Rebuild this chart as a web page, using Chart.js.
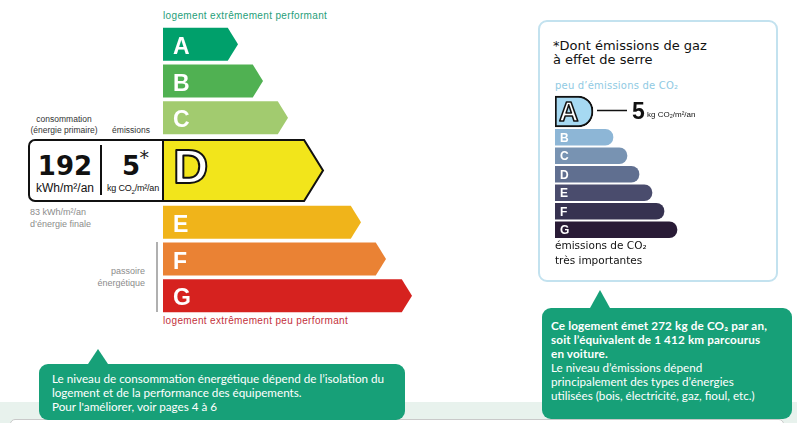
<!DOCTYPE html>
<html lang="fr">
<head>
<meta charset="utf-8">
<script src="https://cdn.jsdelivr.net/npm/chart.js@4/dist/chart.umd.min.js"></script>
<style>
  body { margin: 0; width: 797px; height: 423px; position: relative; overflow: hidden; background: #fff;
         font-family: 'Liberation Sans', Arial, sans-serif; }
  .abs { position: absolute; white-space: nowrap; }
  canvas { display: block; }
  .band { left: 0; top: 402px; width: 797px; height: 21px; background: #e8f2ed; }
  .sheet { left: 10px; top: 419px; width: 772px; height: 20px; background: #fff; border: 1px solid #c9c9c9; border-radius: 5px; }
  .small { font-size: 8.5px; line-height: 11px; color: #333; text-align: center; }
  .grey { font-size: 9px; line-height: 11.5px; color: #8c8c8c; }
  .dbox { left: 28px; top: 139px; width: 136px; height: 63px; box-sizing: border-box; border: 2px solid #111;
          border-right: none; border-radius: 7px 0 0 7px; background: #fff; }
  .big { font-family: 'DejaVu Sans', Verdana, sans-serif; font-weight: bold; font-size: 26px; line-height: 26px; color: #111; text-align: center; }
  .panel { left: 538px; top: 20px; width: 240px; height: 262px; box-sizing: border-box; border: 2px solid #c3e2ef; border-radius: 9px; }
  .dv { font-family: 'DejaVu Sans', Verdana, sans-serif; color: #111; }
  .callout { background: #17a078; color: #fff; border-radius: 9px; font-family: Lato, 'Open Sans', sans-serif;
             font-size: 11.7px; line-height: 14px; box-sizing: border-box; white-space: nowrap; }
  .callout b { letter-spacing: 0.15px; }
  .callout::before { content: ''; position: absolute; width: 0; height: 0;
             border-left: 10px solid transparent; border-right: 10px solid transparent; }
  #callLeft { left: 39px; top: 364px; width: 366px; height: 56px; padding: 7px 0 0 13px; }
  #callLeft::before { left: 49px; top: -15px; border-bottom: 15px solid #17a078; }
  #callRight { left: 542px; top: 308px; width: 250px; height: 111px; padding: 10px 0 0 9px; }
  #callRight::before { left: 48px; top: -18px; border-bottom: 18px solid #17a078; }
</style>
</head>
<body>
<div class="abs band"></div>
<div class="abs sheet"></div>

<!-- étiquette énergie -->
<div class="abs" style="left:163px;top:11px;font-size:10px;line-height:10px;letter-spacing:0.35px;color:#1f9e79;">logement extrêmement performant</div>
<div class="abs" style="left:163px;top:316px;font-size:10px;line-height:10px;letter-spacing:0.35px;color:#c3313b;">logement extrêmement peu performant</div>

<div class="abs small" style="left:14px;top:113.5px;width:100px;">consommation<br>(énergie primaire)</div>
<div class="abs small" style="left:101px;top:124.5px;width:60px;">émissions</div>

<div class="abs dbox"></div>
<div class="abs big" style="left:30px;top:153px;width:70px;" id="valEnergy"></div>
<div class="abs" style="left:29px;top:182px;width:72px;text-align:center;font-size:12px;line-height:12px;color:#111;">kWh/m²/an</div>
<div class="abs" style="left:100px;top:145px;width:1.5px;height:50px;background:#111;"></div>
<div class="abs big" style="left:116px;top:153px;width:30px;" id="valGes"></div>
<div class="abs dv" style="left:139.5px;top:148px;font-size:19px;line-height:19px;color:#222;">*</div>
<div class="abs" style="left:102px;top:183.5px;width:62px;text-align:center;font-size:9px;line-height:9px;color:#111;letter-spacing:-0.2px;">kg CO<sub style="font-size:6px;">2</sub>/m²/an</div>

<div class="abs grey" style="left:30px;top:207px;" id="finalEnergy"></div>
<div class="abs grey" style="left:45px;top:266px;width:100px;text-align:right;">passoire<br>énergétique</div>
<div class="abs" style="left:156px;top:242px;width:2px;height:70px;background:#b0b0b0;"></div>

<div class="abs" style="left:160px;top:26px;"><canvas id="energyTop" width="256" height="110"></canvas></div>
<div class="abs" style="left:160px;top:137px;"><canvas id="energyMid" width="256" height="67"></canvas></div>
<div class="abs" style="left:160px;top:204px;"><canvas id="energyBottom" width="256" height="110"></canvas></div>

<!-- étiquette climat -->
<div class="abs panel"></div>
<div class="abs dv" style="left:553px;top:39px;font-size:13px;line-height:13.5px;">*Dont émissions de gaz<br>à effet de serre</div>
<div class="abs dv" style="left:555px;top:81px;font-size:10px;line-height:10px;letter-spacing:0.2px;color:#8fcae3;">peu d’émissions de CO₂</div>
<div class="abs" style="left:555px;top:95px;"><canvas id="gesTop" width="160" height="33"></canvas></div>
<div class="abs" style="left:555px;top:128px;"><canvas id="gesBars" width="130" height="111"></canvas></div>
<div class="abs dv" style="left:555px;top:238px;font-size:10.5px;line-height:15px;">émissions de CO₂<br>très importantes</div>

<!-- bulles -->
<div class="abs callout" id="callLeft">Le niveau de consommation énergétique dépend de l’isolation du<br>logement et de la performance des équipements.<br>Pour l'améliorer, voir pages 4 à 6</div>
<div class="abs callout" id="callRight"><b id="co2Text"></b><br>Le niveau d’émissions dépend<br>principalement des types d’énergies<br>utilisées (bois, électricité, gaz, fioul, etc.)</div>

<script>
const classes = ['A', 'B', 'C', 'D', 'E', 'F', 'G'];
const energyBars = [75, 100, 125, 160, 198, 223, 249];
const gesBars = [38, 58, 72, 84, 97, 109, 122];
const energyClass = 'D';
const gesClass = 'A';
const primaryEnergy = 192;
const finalEnergy = 83;
const gesValue = 5;
const co2PerYear = 272;
const carKm = '1 412';

const energyColors = ['#00a06b', '#50b152', '#a2cb6f', '#f2e51b', '#f0b41a', '#ea8234', '#d6221f'];
const gesColors = ['#a6d9f2', '#8db6d6', '#7893b2', '#606f90', '#4a4c6d', '#363250', '#291b36'];

document.getElementById('valEnergy').textContent = primaryEnergy;
document.getElementById('valGes').textContent = gesValue;
document.getElementById('finalEnergy').innerHTML = finalEnergy + ' kWh/m²/an<br>d’énergie finale';
document.getElementById('co2Text').innerHTML =
    `Ce logement émet ${co2PerYear} kg de CO₂ par an,<br>soit l’équivalent de ${carKm} km parcourus<br>en voiture.`;

// dessine les flèches + lettres a partir des barres
const dpePlugin = {
    id: 'dpe',
    beforeDatasetDraw(chart, args, opts) {
        if (opts.arrows) return false;
    },
    afterDatasetsDraw(chart, args, opts) {
        const ctx = chart.ctx;
        const ds = chart.data.datasets[0];
        const bars = chart.getDatasetMeta(0).data;
        bars.forEach((bar, i) => {
            const { x, y, base, height } = bar.getProps(['x', 'y', 'base', 'height'], true);
            const top = y - height / 2, bottom = y + height / 2;
            ctx.save();
            if (opts.arrows) {
                const tip = height * 0.31;
                ctx.beginPath();
                ctx.moveTo(base, top);
                ctx.lineTo(x - tip, top);
                ctx.lineTo(x, y);
                ctx.lineTo(x - tip, bottom);
                ctx.lineTo(base, bottom);
                ctx.closePath();
                ctx.fillStyle = ds.backgroundColor[i];
                ctx.fill();
                if (opts.outline) {
                    ctx.lineWidth = 2;
                    ctx.strokeStyle = '#111';
                    ctx.stroke();
                }
            }
            ctx.font = opts.font;
            ctx.fillStyle = '#fff';
            const lx = base + opts.dx, ly = y + opts.dy;
            ctx.fillText(chart.data.labels[i], lx, ly);
            if (opts.outline) {
                ctx.lineWidth = opts.stroke;
                ctx.strokeStyle = '#111';
                ctx.lineJoin = 'round';
                ctx.strokeText(chart.data.labels[i], lx, ly);
            }
            ctx.restore();
        });
        if (opts.pointer) {
            const bar = bars[0];
            ctx.save();
            ctx.strokeStyle = '#111';
            ctx.lineWidth = 1.5;
            ctx.beginPath();
            ctx.moveTo(bar.x + 4, bar.y - 1);
            ctx.lineTo(bar.x + 34, bar.y - 1);
            ctx.stroke();
            ctx.fillStyle = '#111';
            ctx.font = 'bold 23px "Liberation Sans", Arial';
            ctx.fillText(opts.pointer.value, bar.x + 39, bar.y + 7.5);
            ctx.font = '8px "Liberation Sans", Arial';
            ctx.fillText(opts.pointer.unit, bar.x + 54, bar.y + 5);
            ctx.restore();
        }
    }
};

function drawBars(id, labels, values, colors, width, thickness, dpe, extra) {
    return new Chart(document.getElementById(id), {
        type: 'bar',
        data: {
            labels,
            datasets: [Object.assign({ data: values, backgroundColor: colors, barThickness: thickness, borderWidth: 0 }, extra || {})]
        },
        options: {
            indexAxis: 'y',
            responsive: false,
            animation: false,
            layout: { padding: dpe.arrows ? { left: 3, right: 3, top: dpe.outline ? 3 : 0, bottom: dpe.outline ? 3 : 0 } : 0 },
            plugins: { legend: { display: false }, tooltip: { enabled: false }, dpe },
            scales: {
                x: { display: false, min: 0, max: width },
                y: { display: false }
            }
        },
        plugins: [dpePlugin]
    });
}

const k = classes.indexOf(energyClass);
const letterFont = 'bold 23px "Liberation Sans", Arial';
drawBars('energyTop', classes.slice(0, k), energyBars.slice(0, k), energyColors.slice(0, k), 250, 33,
    { arrows: true, font: letterFont, dx: 10, dy: 9.5 });
drawBars('energyMid', [energyClass], [energyBars[k]], [energyColors[k]], 250, 61,
    { arrows: true, outline: true, font: 'bold 49px "Liberation Sans", Arial', dx: 10, dy: 12.5, stroke: 2 });
drawBars('energyBottom', classes.slice(k + 1), energyBars.slice(k + 1), energyColors.slice(k + 1), 250, 33,
    { arrows: true, font: letterFont, dx: 10, dy: 9.5 });

const g = classes.indexOf(gesClass);
drawBars('gesTop', [gesClass], [gesBars[g]], [gesColors[g]], 160, 31,
    { outline: true, font: 'bold 27px "Liberation Sans", Arial', dx: 4, dy: 9, stroke: 1.6,
      pointer: { value: String(gesValue), unit: 'kg CO₂/m²/an' } },
    { borderWidth: 2, borderColor: '#111', borderSkipped: false,
      borderRadius: { topLeft: 0, bottomLeft: 0, topRight: 15, bottomRight: 15 } });
drawBars('gesBars', classes.filter(c => c !== gesClass), gesBars.filter((v, i) => i !== g),
    gesColors.filter((c, i) => i !== g), 130, 16,
    { font: 'bold 12px "Liberation Sans", Arial', dx: 5, dy: 4.5 },
    { borderRadius: { topLeft: 0, bottomLeft: 0, topRight: 8, bottomRight: 8 } });
</script>
</body>
</html>
